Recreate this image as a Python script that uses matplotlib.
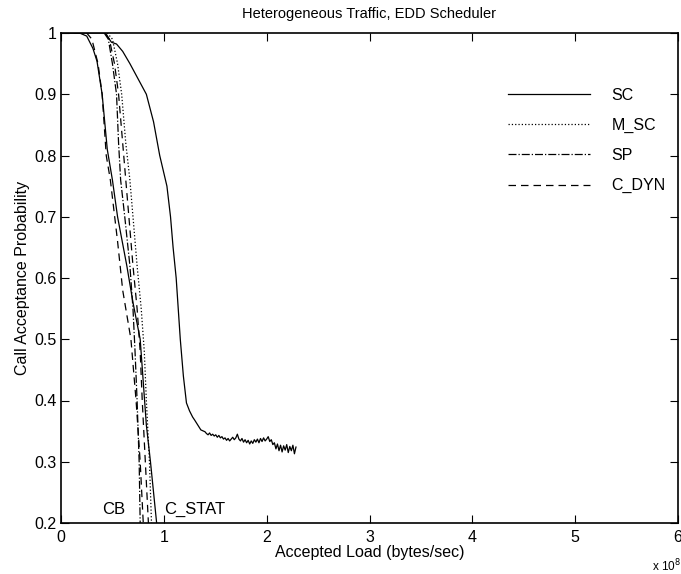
"""
Heterogeneous traffic, EDD scheduler: call acceptance probability
versus accepted load for the SC / M_SC / SP / C_DYN admission schemes.
"""

import matplotlib
matplotlib.use('Agg')
import matplotlib.pyplot as plt

plt.rcParams['font.family'] = ['Liberation Sans', 'DejaVu Sans']

# accepted load in units of 1e8 bytes/sec, acceptance probability
prob_levels = [1.0, 0.99, 0.95, 0.90, 0.82, 0.76, 0.70, 0.62, 0.55, 0.48, 0.40, 0.30, 0.20]

# CB group
sc_cb_load = [0.0, 0.18, 0.25, 0.31, 0.35, 0.40, 0.45, 0.50, 0.55, 0.64, 0.70, 0.77, 0.80, 0.83, 0.87, 0.93]
sc_cb_prob = [1.0, 1.0, 0.995, 0.975, 0.954, 0.90, 0.81, 0.76, 0.70, 0.62, 0.56, 0.50, 0.43, 0.36, 0.30, 0.20]

cdyn_cb_load = [0.0, 0.25, 0.30, 0.36, 0.40, 0.44, 0.48, 0.55, 0.60, 0.68, 0.73, 0.77, 0.80]
cdyn_cb_prob = [1.0, 1.0, 0.99, 0.95, 0.90, 0.80, 0.76, 0.66, 0.58, 0.50, 0.40, 0.30, 0.20]

# C_STAT group
sp_cs_load = [0.42, 0.46, 0.50, 0.54, 0.56, 0.58, 0.62, 0.67, 0.70, 0.72, 0.74, 0.76, 0.77]
cdyn_cs_load = [0.43, 0.47, 0.52, 0.56, 0.60, 0.63, 0.66, 0.70, 0.74, 0.77, 0.79, 0.82, 0.85]
msc_cs_load = [0.45, 0.50, 0.55, 0.59, 0.63, 0.67, 0.70, 0.74, 0.78, 0.81, 0.83, 0.86, 0.88]

# SC curve that levels off around 0.33
sc_load = [0.0, 0.43, 0.49, 0.54, 0.60, 0.67, 0.75, 0.83, 0.90, 0.96, 1.03, 1.065, 1.09, 1.12, 1.14,
           1.16, 1.19, 1.22, 1.25, 1.28, 1.30, 1.33, 1.36,
           1.400, 1.415, 1.430, 1.445, 1.460, 1.475, 1.490, 1.505, 1.520, 1.535,
           1.550, 1.565, 1.580, 1.595, 1.610, 1.625, 1.640, 1.655, 1.670, 1.685,
           1.700, 1.715, 1.730, 1.745, 1.760, 1.775, 1.790, 1.805, 1.820, 1.835,
           1.850, 1.865, 1.880, 1.895, 1.910, 1.925, 1.940, 1.955, 1.970, 1.985,
           2.000, 2.015, 2.030, 2.045, 2.060, 2.075, 2.090, 2.105, 2.120, 2.135,
           2.150, 2.165, 2.180, 2.195, 2.210, 2.225, 2.240, 2.255, 2.270, 2.285]
sc_prob = [1.0, 1.0, 0.985, 0.982, 0.97, 0.95, 0.925, 0.90, 0.855, 0.80, 0.75, 0.70, 0.65, 0.60, 0.55,
           0.50, 0.44, 0.396, 0.383, 0.373, 0.368, 0.360, 0.352,
           0.349, 0.346, 0.344, 0.347, 0.343, 0.345, 0.342, 0.344, 0.340, 0.343,
           0.339, 0.341, 0.337, 0.339, 0.335, 0.338, 0.334, 0.337, 0.340, 0.336,
           0.339, 0.345, 0.337, 0.334, 0.338, 0.332, 0.336, 0.331, 0.335, 0.329,
           0.334, 0.330, 0.336, 0.332, 0.337, 0.331, 0.338, 0.333, 0.339, 0.334,
           0.337, 0.341, 0.333, 0.336, 0.328, 0.331, 0.321, 0.329, 0.318, 0.327,
           0.316, 0.326, 0.319, 0.328, 0.315, 0.325, 0.318, 0.327, 0.313, 0.324]

legend_labels = ['SC', 'M_SC', 'SP', 'C_DYN']
x_ticks = [0, 1, 2, 3, 4, 5, 6]
y_ticks = [0.2, 0.3, 0.4, 0.5, 0.6, 0.7, 0.8, 0.9, 1.0]

fig = plt.figure(figsize=(6.81, 5.74), dpi=100)
ax = fig.add_axes([61 / 681, 1 - 523 / 574, 617 / 681, 490 / 574])

lw = 0.9
dash = (0, (6, 4))
h_sc, = ax.plot(sc_load, sc_prob, color='black', lw=lw, linestyle='-')
ax.plot(sc_cb_load, sc_cb_prob, color='black', lw=lw, linestyle='-')
h_msc, = ax.plot(msc_cs_load, prob_levels, color='black', lw=lw, linestyle=':')
h_sp, = ax.plot(sp_cs_load, prob_levels, color='black', lw=lw, linestyle='-.')
h_cdyn, = ax.plot(cdyn_cs_load, prob_levels, color='black', lw=lw, linestyle=dash)
ax.plot(cdyn_cb_load, cdyn_cb_prob, color='black', lw=lw, linestyle=dash)

ax.set_xlim(0, 6)
ax.set_ylim(0.2, 1.0)
ax.set_xticks(x_ticks)
ax.set_xticklabels([str(t) for t in x_ticks])
ax.set_yticks(y_ticks)
ax.set_yticklabels(['0.2', '0.3', '0.4', '0.5', '0.6', '0.7', '0.8', '0.9', '1'])
ax.tick_params(direction='in', top=True, right=True, labelsize=11.5, length=6, width=0.8)
ax.tick_params(axis='x', pad=5)
ax.tick_params(axis='y', pad=3)
for s in ax.spines.values():
    s.set_linewidth(1.2)

ax.set_xlabel('Accepted Load (bytes/sec)', fontsize=11.5, labelpad=0)
ax.set_ylabel('Call Acceptance Probability', fontsize=11.5, labelpad=3.5)
ax.set_title('Heterogeneous Traffic, EDD Scheduler', fontsize=10.5, pad=11)
fig.text(652 / 681, 1 - 566 / 574, 'x 10$^8$', fontsize=8.5, va='center', ha='left')

ax.text(0.40, 0.222, 'CB', fontsize=12, va='center', ha='left')
ax.text(1.00, 0.222, 'C_STAT', fontsize=12, va='center', ha='left')

ax.legend([h_sc, h_msc, h_sp, h_cdyn], legend_labels, loc='upper left',
          bbox_to_anchor=(0.704, 0.914), frameon=False, fontsize=11.5,
          handlelength=5.1, handletextpad=1.37, labelspacing=0.94, borderpad=0.3)

fig.savefig('out.png', dpi=100)
